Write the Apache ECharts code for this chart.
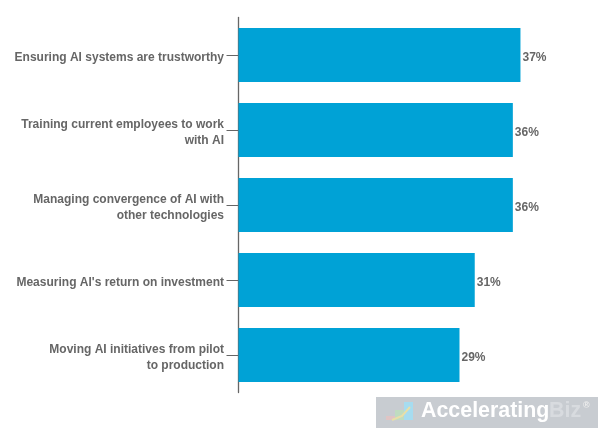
<!DOCTYPE html>
<html>
<head>
<meta charset="utf-8">
<style>
html,body{margin:0;padding:0;background:#fff;}
#chart{width:600px;height:430px;}
</style>
<script src="https://cdn.jsdelivr.net/npm/echarts@6/dist/echarts.min.js"></script>
</head>
<body>
<div id="chart"></div>
<script>
const categories = [
  'Ensuring AI systems are trustworthy',
  'Training current employees to work\nwith AI',
  'Managing convergence of AI with\nother technologies',
  "Measuring AI's return on investment",
  'Moving AI initiatives from pilot\nto production'
];
const values = [37, 36, 36, 31, 29];

const chart = echarts.init(document.getElementById('chart'));
chart.setOption({
  animation: false,
  backgroundColor: '#fff',
  grid: {left: 238.5, top: 17.5, width: 360, height: 375},
  xAxis: {type: 'value', min: 0, max: 47.24, show: false},
  yAxis: {
    type: 'category',
    inverse: true,
    data: categories,
    axisLine: {show: true, lineStyle: {color: '#666', width: 1.3}},
    axisTick: {show: true, length: 12, alignWithLabel: true, lineStyle: {color: '#666'}},
    axisLabel: {
      margin: 14.5,
      align: 'right',
      padding: [5, 0, 0, 0],
      // rich text so the top padding really moves the label down
      formatter: function (v) {
        return v.split('\n').map(function (s) { return '{t|' + s + '}'; }).join('\n');
      },
      rich: {
        t: {
          color: '#666',
          fontFamily: 'Liberation Sans',
          fontWeight: 'bold',
          fontSize: 12,
          lineHeight: 16
        }
      }
    }
  },
  series: [{
    type: 'bar',
    data: values,
    barWidth: 54,
    itemStyle: {color: '#00a2d6'},
    label: {
      show: true,
      position: 'right',
      distance: 2,
      offset: [0, 3],
      formatter: '{c}%',
      color: '#666',
      fontFamily: 'Liberation Sans',
      fontWeight: 'bold',
      fontSize: 12
    }
  }],
  graphic: [
    {type: 'rect', shape: {x: 376, y: 397, width: 222, height: 31}, style: {fill: '#c8ccd1'}},
    // logo mark
    {type: 'rect', shape: {x: 386, y: 416, width: 9, height: 4}, style: {fill: '#e0c4c4'}},
    {type: 'rect', shape: {x: 395, y: 410, width: 9, height: 10}, style: {fill: '#bfdcc0'}},
    {type: 'rect', shape: {x: 404, y: 402, width: 9, height: 18}, style: {fill: '#a6dcf0'}},
    {type: 'polyline', shape: {points: [[392, 420], [402, 416], [410, 407]]}, style: {stroke: '#e8dfa8', lineWidth: 2, fill: 'none'}},
    {type: 'text', style: {x: 421, y: 401, text: 'Accelerating', fill: '#fff', font: 'bold 21.4px "Liberation Sans"'}},
    {type: 'text', style: {x: 549, y: 401, text: 'Biz', fill: '#d8dbdf', font: 'bold 21.4px "Liberation Sans"'}},
    {type: 'text', style: {x: 583, y: 401, text: '®', fill: '#eee', font: 'bold 9px "Liberation Sans"'}}
  ]
});
</script>
</body>
</html>
